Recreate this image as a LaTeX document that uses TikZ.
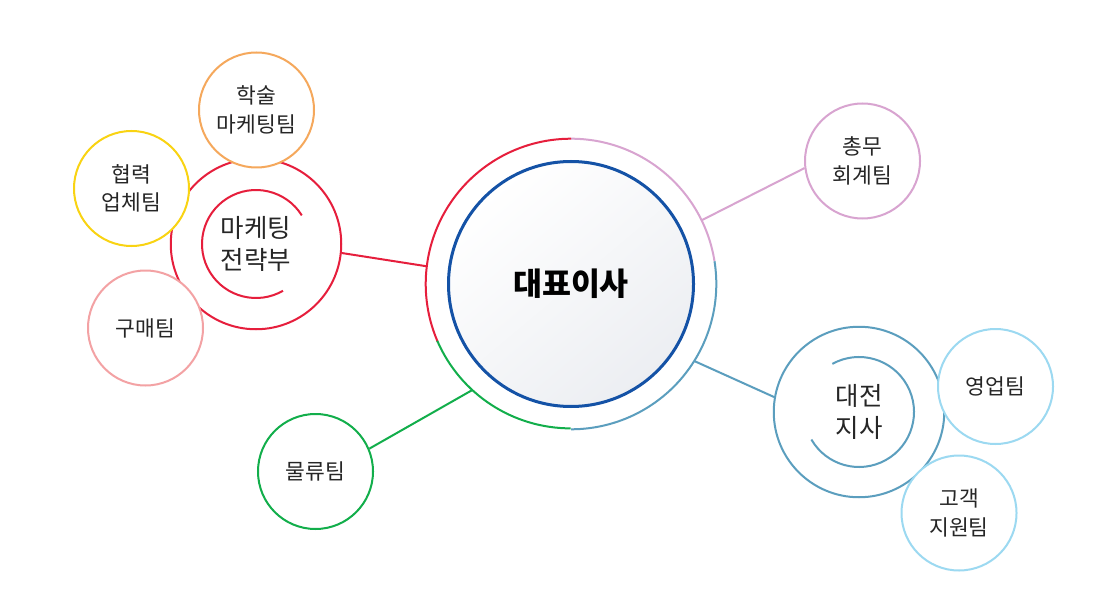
\documentclass[tikz,border=0pt]{standalone}
\usepackage{fontspec}
\setmainfont{Noto Sans CJK KR}
\usetikzlibrary{calc}
\definecolor{cred}{HTML}{E61E3C}
\definecolor{cpink}{HTML}{D8A4D0}
\definecolor{cteal}{HTML}{5B9EBE}
\definecolor{cgreen}{HTML}{12AE4B}
\definecolor{cblue}{HTML}{1452A6}
\definecolor{corange}{HTML}{F5A85C}
\definecolor{cyellow}{HTML}{F9D312}
\definecolor{crose}{HTML}{F3A2A4}
\definecolor{clight}{HTML}{9CD9F1}
\definecolor{cshade}{HTML}{ECEEF2}
\tikzset{
  team/.style={circle, draw=#1, line width=2pt, fill=white, minimum size=115pt, inner sep=0pt,
    align=center, font=\fontsize{21.5}{28.5}\selectfont, text=black!85},
  dept/.style={circle, draw=#1, line width=2pt, minimum size=170.5pt, inner sep=0pt,
    align=center, font=\fontsize{25.5}{31.5}\selectfont, text=black!85},
  ceobox/.style={circle, draw=cblue, line width=3pt, minimum size=245pt, inner sep=0pt,
    top color=white, bottom color=cshade, shading angle=40,
    font=\fontsize{31.5}{36}\selectfont\bfseries},
  ringbox/.style={circle, minimum size=290.6pt, inner sep=0pt, outer sep=0pt},
  link/.style={line width=2pt},
}
\begin{document}
\begin{tikzpicture}[x=1pt,y=1pt]
\useasboundingbox[fill=white] (0,0) rectangle (1115,614);

% central
\node[ringbox] (ring) at (571,330) {};
\node[ceobox] (ceo) at (571,330) {대표이사};
\draw[cpink, line width=2pt] (ring.9) arc[start angle=9, end angle=90, radius=145.3];
\draw[cred, line width=2pt] (ring.90) arc[start angle=90, end angle=203.4, radius=145.3];
\draw[cgreen, line width=2pt] (ring.203.4) arc[start angle=203.4, end angle=270, radius=145.3];
\draw[cteal, line width=2pt] (ring.270) arc[start angle=270, end angle=369, radius=145.3];

% departments
\node[dept=cred] (mk) at (256,370) {마케팅\\전략부};
\draw[cred, line width=2pt] ([shift={(32:54)}]mk.center) arc[start angle=32, end angle=300, radius=54];
\node[dept=cteal] (dj) at (859,202) {대전\\지사};
\draw[cteal, line width=2pt] ([shift={(119:55)}]dj.center) arc[start angle=119, end angle=-150, radius=55];

% teams
\node[team=corange] (acad) at (256.5,504) {학술\\마케팅팀};
\node[team=cyellow] (coop) at (131.5,425.5) {협력\\업체팀};
\node[team=crose] (buy) at (145.5,286) {구매팀};
\node[team=cgreen] (logi) at (315.5,142.5) {물류팀};
\node[team=cpink] (gen) at (862.5,453) {총무\\회계팀};
\node[team=clight] (sales) at (995.5,227.5) {영업팀};
\node[team=clight] (cs) at (959,101) {고객\\지원팀};

% connectors
\draw[link, cred] (mk.-6) -- (ring.173);
\draw[link, cgreen] (logi.23.8) -- (ring.227.8);
\draw[link, cpink] (ring.26.2) -- (gen.187);
\draw[link, cteal] (ring.-32.7) -- (dj.170.8);
\end{tikzpicture}
\end{document}
